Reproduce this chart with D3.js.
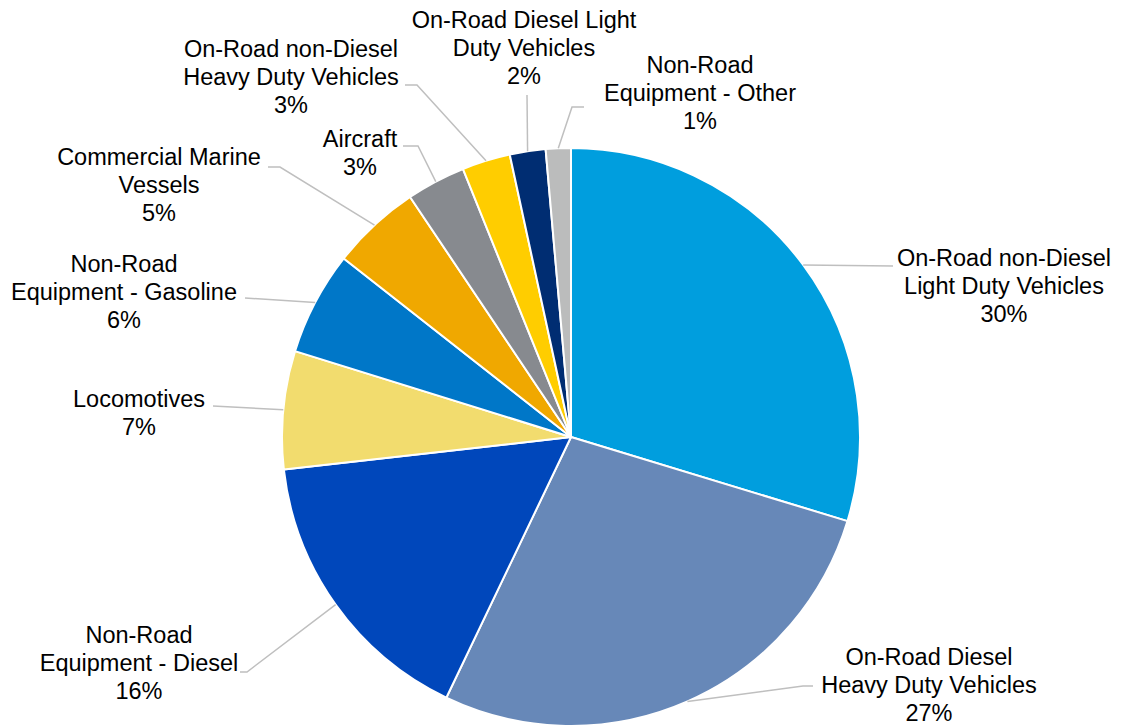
<!DOCTYPE html>
<html>
<head>
<meta charset="utf-8">
<script src="https://cdn.jsdelivr.net/npm/d3@7"></script>
<style>
  html, body { margin: 0; padding: 0; background: #fff; }
  svg { display: block; }
  text { font-family: "Liberation Sans", Arial, sans-serif; }
</style>
</head>
<body>
<svg id="chart" width="1125" height="727"></svg>
<script>
// Share of emissions by source (percent), clockwise from 12 o'clock
const categories = [
  "On-Road non-Diesel Light Duty Vehicles",
  "On-Road Diesel Heavy Duty Vehicles",
  "Non-Road Equipment - Diesel",
  "Locomotives",
  "Non-Road Equipment - Gasoline",
  "Commercial Marine Vessels",
  "Aircraft",
  "On-Road non-Diesel Heavy Duty Vehicles",
  "On-Road Diesel Light Duty Vehicles",
  "Non-Road Equipment - Other"
];
const values = [29.7, 27.4, 16.1, 6.6, 5.8, 5.0, 3.3, 2.7, 2.0, 1.4];

// Label text, split into lines as shown on the chart
const labelLines = [
  ["On-Road non-Diesel", "Light Duty Vehicles"],
  ["On-Road Diesel", "Heavy Duty Vehicles"],
  ["Non-Road", "Equipment - Diesel"],
  ["Locomotives"],
  ["Non-Road", "Equipment - Gasoline"],
  ["Commercial Marine", "Vessels"],
  ["Aircraft"],
  ["On-Road non-Diesel", "Heavy Duty Vehicles"],
  ["On-Road Diesel Light", "Duty Vehicles"],
  ["Non-Road", "Equipment - Other"]
];

const colors = [
  "#009EDE", "#6788B8", "#0047BB", "#F2DC6E", "#0077C8",
  "#F0A800", "#878A8F", "#FFCD00", "#002D72", "#BBBCBC"
];

// Label placement: text centre x, first baseline y, leader elbow points
const labelLayout = [
  { x: 1004, y: 266, leader: [[893, 266]] },
  { x: 929, y: 665, leader: [[803, 686], [813, 686]] },
  { x: 139, y: 643, leader: [[247, 672], [240, 672]] },
  { x: 139, y: 407, leader: [[213, 406]] },
  { x: 124, y: 272, leader: [[245, 298]] },
  { x: 159, y: 165, leader: [[280, 167], [268, 167]] },
  { x: 360, y: 147, leader: [[418, 146], [403, 146]] },
  { x: 291, y: 57, leader: [[417, 85], [405, 85]] },
  { x: 524, y: 28, leader: [[527, 95]] },
  { x: 700, y: 73, leader: [[572, 107], [584, 107]] }
];

const cx = 571, cy = 437, radius = 289;
const fontSize = 23.5, lineHeight = 28;

const data = categories.map((c, i) => ({
  name: c, value: values[i], lines: labelLines[i], color: colors[i], layout: labelLayout[i]
}));

const svg = d3.select("#chart");
const g = svg.append("g").attr("transform", `translate(${cx},${cy})`);

const pie = d3.pie().value(d => d.value).sort(null);
const arc = d3.arc().innerRadius(0).outerRadius(radius);
const arcs = pie(data);

// Leader lines from each slice edge to its label
const leaderArc = d3.arc().innerRadius(radius).outerRadius(radius);
svg.append("g")
  .selectAll("polyline")
  .data(arcs)
  .join("polyline")
  .attr("fill", "none")
  .attr("stroke", "#BFBFBF")
  .attr("stroke-width", 1.5)
  .attr("points", d => {
    const mid = (d.startAngle + d.endAngle) / 2;
    const p0 = [cx + radius * Math.sin(mid), cy - radius * Math.cos(mid)];
    return [p0, ...d.data.layout.leader].map(p => p.join(",")).join(" ");
  });

// Slices
g.selectAll("path")
  .data(arcs)
  .join("path")
  .attr("d", arc)
  .attr("fill", d => d.data.color)
  .attr("stroke", "#fff")
  .attr("stroke-width", 2)
  .attr("stroke-linejoin", "round");

// Labels: category lines followed by the rounded percentage
const labels = svg.append("g")
  .selectAll("text")
  .data(arcs)
  .join("text")
  .attr("text-anchor", "middle")
  .attr("font-size", fontSize)
  .attr("fill", "#000");

labels.each(function (d) {
  const t = d3.select(this);
  const lines = [...d.data.lines, d3.format(".0f")(d.data.value) + "%"];
  lines.forEach((ln, k) => {
    t.append("tspan")
      .attr("x", d.data.layout.x)
      .attr("y", d.data.layout.y + k * lineHeight)
      .text(ln);
  });
});
</script>
</body>
</html>
